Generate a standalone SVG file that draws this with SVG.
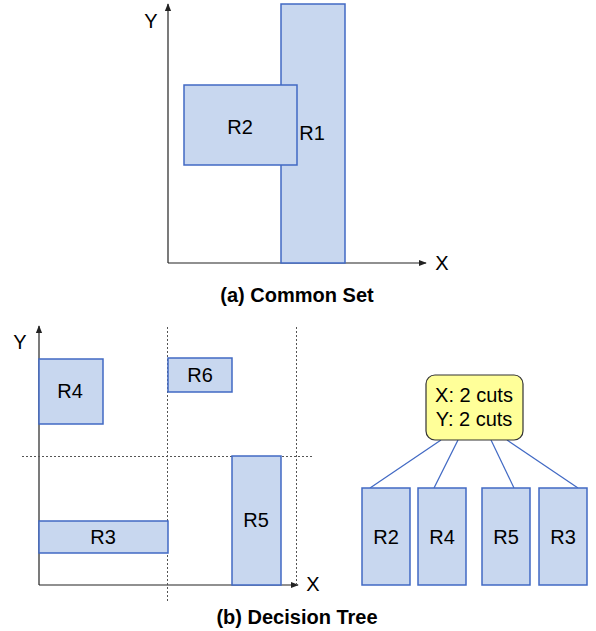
<svg xmlns="http://www.w3.org/2000/svg" width="596" height="631" viewBox="0 0 596 631">
  <style>
    .box { fill: #c8d7ef; stroke: #4169c4; stroke-width: 1.5; }
    .axis { stroke: #222; stroke-width: 1.2; fill: none; }
    .cut { stroke: #555; stroke-width: 1; stroke-dasharray: 2 2; fill: none; }
    .edge { stroke: #4169c4; stroke-width: 1.2; fill: none; }
    .lbl { font-family: "Liberation Sans", Arial, sans-serif; font-size: 20px; fill: #000; text-anchor: middle; dominant-baseline: central; }
    .cap { font-family: "Liberation Sans", Arial, sans-serif; font-size: 20px; font-weight: bold; fill: #000; text-anchor: middle; }
  </style>
  <defs>
    <marker id="arrow" viewBox="0 0 10 10" refX="9" refY="5" markerWidth="8" markerHeight="8" markerUnits="userSpaceOnUse" orient="auto">
      <path d="M0,1 L10,5 L0,9 z" fill="#222"/>
    </marker>
  </defs>

  <rect width="596" height="631" fill="#fff"/>

  <!-- (a) Common Set -->
  <g id="plotA-axes">
    <line class="axis" x1="168" y1="263" x2="168" y2="4" marker-end="url(#arrow)"/>
    <line class="axis" x1="168" y1="263" x2="426" y2="263" marker-end="url(#arrow)"/>
    <text class="lbl" x="151" y="21">Y</text>
    <text class="lbl" x="442" y="263">X</text>
  </g>
  <g id="R1">
    <rect class="box" x="281" y="4" width="64" height="259"/>
    <text class="lbl" x="312" y="133">R1</text>
  </g>
  <g id="R2">
    <rect class="box" x="184" y="85" width="113" height="80"/>
    <text class="lbl" x="240" y="127">R2</text>
  </g>
  <text class="cap" x="297" y="302">(a) Common Set</text>

  <!-- (b) Decision Tree: plane with cut lines -->
  <g id="plotB-axes">
    <line class="axis" x1="39" y1="585" x2="39" y2="326" marker-end="url(#arrow)"/>
    <line class="axis" x1="39" y1="585" x2="298" y2="585" marker-end="url(#arrow)"/>
    <text class="lbl" x="20" y="342">Y</text>
    <text class="lbl" x="313" y="584">X</text>
  </g>
  <g id="cuts">
    <line class="cut" x1="167.5" y1="327" x2="167.5" y2="601"/>
    <line class="cut" x1="296.5" y1="327" x2="296.5" y2="585"/>
    <line class="cut" x1="22" y1="456.5" x2="314" y2="456.5"/>
  </g>
  <g id="R4">
    <rect class="box" x="39" y="359" width="64" height="65"/>
    <text class="lbl" x="70" y="391">R4</text>
  </g>
  <g id="R6">
    <rect class="box" x="168" y="358" width="64" height="34"/>
    <text class="lbl" x="200" y="375">R6</text>
  </g>
  <g id="R3">
    <rect class="box" x="39" y="521" width="129" height="32"/>
    <text class="lbl" x="103" y="537">R3</text>
  </g>
  <g id="R5">
    <rect class="box" x="232" y="456" width="49" height="129"/>
    <text class="lbl" x="256" y="520">R5</text>
  </g>

  <!-- tree -->
  <g id="edges">
    <line class="edge" x1="441" y1="440" x2="370" y2="488"/>
    <line class="edge" x1="458" y1="440" x2="434" y2="488"/>
    <line class="edge" x1="491" y1="440" x2="514" y2="488"/>
    <line class="edge" x1="507" y1="440" x2="578" y2="488"/>
  </g>
  <g id="root">
    <rect x="426" y="375" width="97" height="65" rx="9" fill="#ffff99" stroke="#333" stroke-width="1.2"/>
    <text class="lbl" x="474" y="395">X: 2 cuts</text>
    <text class="lbl" x="474" y="419">Y: 2 cuts</text>
  </g>
  <g id="leaf-R2">
    <rect class="box" x="362" y="488" width="48" height="97"/>
    <text class="lbl" x="386" y="537">R2</text>
  </g>
  <g id="leaf-R4">
    <rect class="box" x="418" y="488" width="48" height="97"/>
    <text class="lbl" x="442" y="537">R4</text>
  </g>
  <g id="leaf-R5">
    <rect class="box" x="482" y="488" width="48" height="97"/>
    <text class="lbl" x="506" y="537">R5</text>
  </g>
  <g id="leaf-R3">
    <rect class="box" x="539" y="488" width="48" height="97"/>
    <text class="lbl" x="563" y="537">R3</text>
  </g>

  <text class="cap" x="297" y="624">(b) Decision Tree</text>
</svg>
